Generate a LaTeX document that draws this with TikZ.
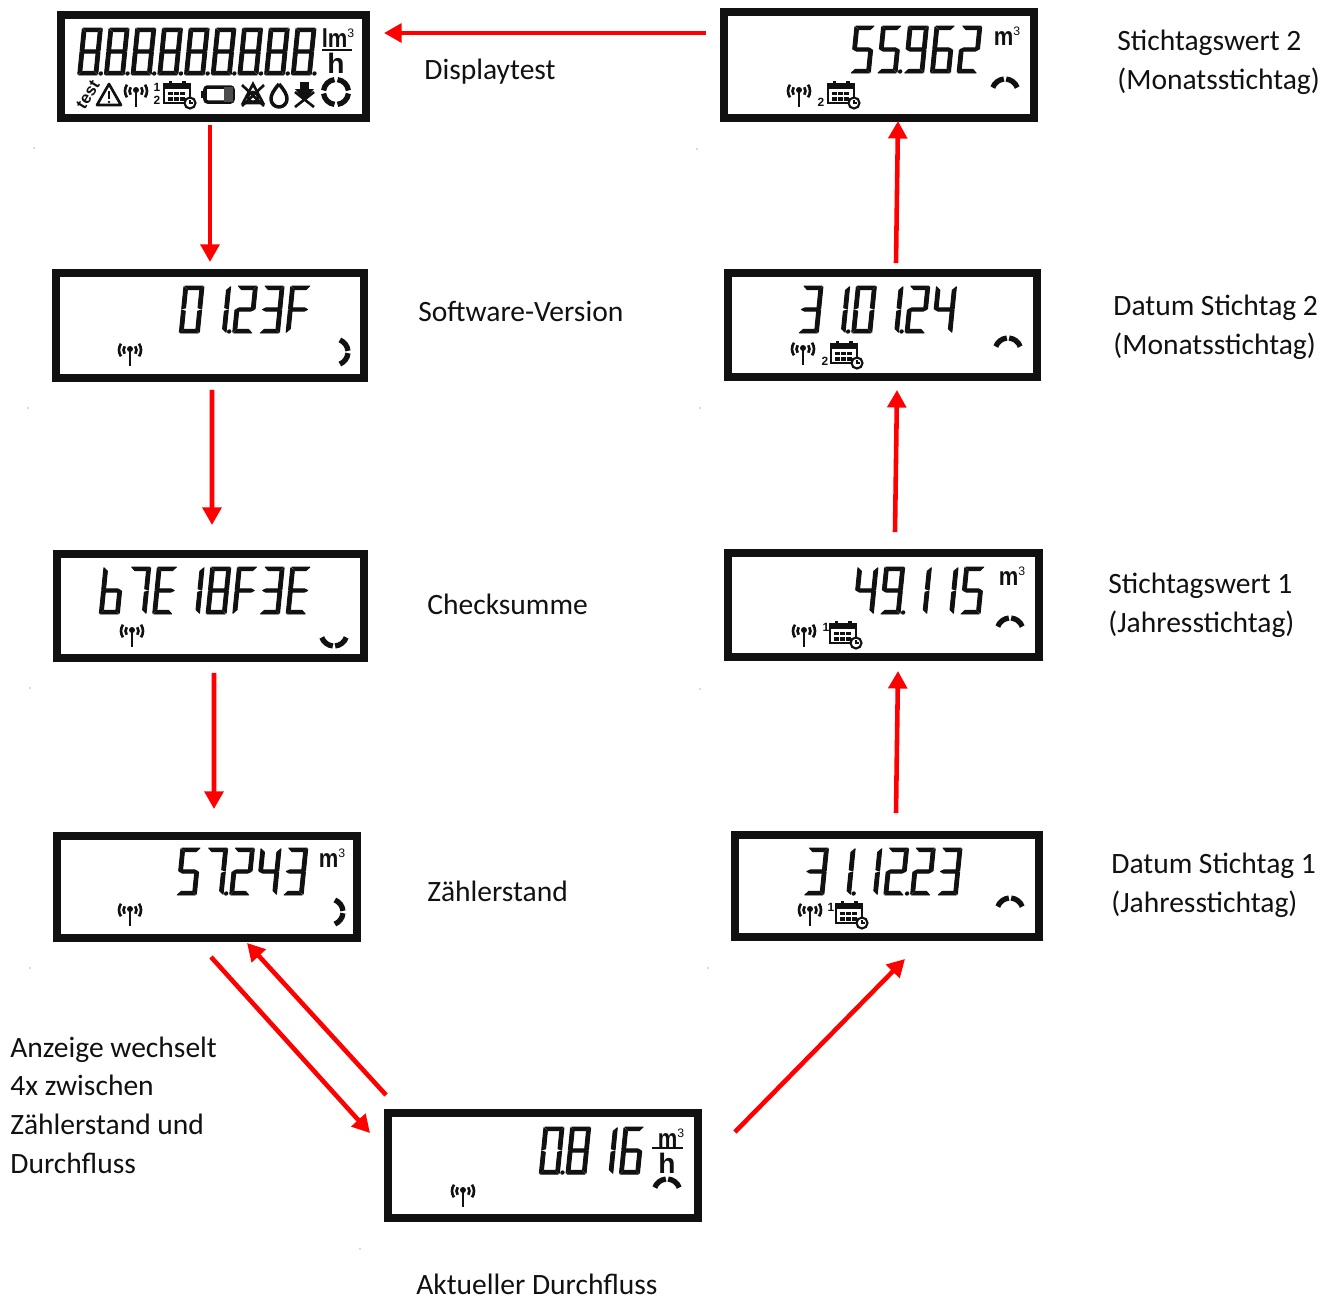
\documentclass[tikz,border=0pt]{standalone}
\usepackage{fontspec}
\setmainfont{Carlito}
\newfontfamily\lcdfont{Liberation Sans}
\usepackage{xcolor}
\usepackage{graphicx}
\usepackage{tikz}
\usetikzlibrary{arrows.meta,calc}
\definecolor{lcdblack}{HTML}{111111}
\definecolor{flowred}{HTML}{FF0000}
\newcommand{\px}{0.02cm}
% segments of one digit, 20 wide and 47 high
\def\sega{(1,0)--(19,0)--(15.5,3.6)--(4.5,3.6)--cycle}
\def\segb{(20,0.8)--(16.2,4.2)--(16.2,21.8)--(20,23)--cycle}
\def\segc{(20,24)--(16.2,25.2)--(16.2,42.8)--(20,46.2)--cycle}
\def\segd{(1,47)--(19,47)--(15.5,43.4)--(4.5,43.4)--cycle}
\def\sege{(0,24)--(3.8,25.2)--(3.8,42.8)--(0,46.2)--cycle}
\def\segf{(0,0.8)--(3.8,4.2)--(3.8,21.8)--(0,23)--cycle}
\def\segg{(0.8,23.5)--(4,21.9)--(16,21.9)--(19.2,23.5)--(16,25.1)--(4,25.1)--cycle}
\newcommand{\setglyph}[2]{\expandafter\def\csname glyph#1\endcsname{#2}}
\setglyph{0}{a,b,c,d,e,f}
\setglyph{1}{b,c}
\setglyph{2}{a,b,d,e,g}
\setglyph{3}{a,b,c,d,g}
\setglyph{4}{b,c,f,g}
\setglyph{5}{a,c,d,f,g}
\setglyph{6}{a,c,d,e,f,g}
\setglyph{7}{a,b,c}
\setglyph{8}{a,b,c,d,e,f,g}
\setglyph{9}{a,b,c,d,f,g}
\setglyph{b}{c,d,e,f,g}
\setglyph{E}{a,d,e,f,g}
\setglyph{F}{a,e,f,g}
% #1 left, #2 top, #3 characters of the reading
\newcommand{\lcdnum}[3]{
  \foreach \c [count=\i from 0] in {#3} {
    \begin{scope}[shift={({#1+26.7*\i},#2)}, xslant=0.1]
      \expandafter\let\expandafter\glyphlist\csname glyph\c\endcsname
      \foreach \s in \glyphlist {
        \expandafter\let\expandafter\segpath\csname seg\s\endcsname
        \fill[lcdblack, draw=lcdblack, line width=0.55pt, line join=round] \segpath;
      }
    \end{scope}
  }
}
\newcommand{\lcddots}[3]{
  \foreach \i in {#3} {
    \begin{scope}[shift={({#1+26.7*\i},#2)}, xslant=0.1]
      \fill[lcdblack] (23,45.5) circle (2.2);
    \end{scope}
  }
}
\newcommand{\cubic}[1]{\scalebox{1}[1.18]{#1}\raisebox{5.5pt}{\fontsize{7}{7}\selectfont\mdseries 3}}
\tikzset{
  lcdbox/.style 2 args={
    rectangle, draw=lcdblack, fill=white, line width=4.5pt,
    minimum width={#1*\px}, minimum height={#2*\px}, inner sep=0pt
  },
  caption/.style={
    anchor=west, align=left, inner sep=0pt,
    font=\fontsize{16.8}{22}\selectfont, text=lcdblack
  },
  unit/.style={font=\lcdfont\bfseries\fontsize{12.5}{13}\selectfont, inner sep=0pt, text=lcdblack},
  unitsmall/.style={font=\lcdfont\bfseries\fontsize{6.8}{7}\selectfont, inner sep=0pt, text=lcdblack},
  flowarrow/.style={
    -{Triangle[length=10pt,width=10.5pt]}, line width=2.6pt, color=flowred
  },
  lcdline/.style={draw=lcdblack, line width=1.5pt},
  ringline/.style={draw=lcdblack, line width=3pt},
  antenna/.pic={
    \draw[lcdline] (0,-4) -- (0,12);
    \fill[lcdblack] (0,-5) circle (3);
    \draw[lcdline] (35:6.5)+(0,-4) arc (35:-35:6.5);
    \draw[lcdline] (145:6.5)+(0,-4) arc (145:215:6.5);
    \draw[lcdline] (35:11)+(0,-4) arc (35:-35:11);
    \draw[lcdline] (145:11)+(0,-4) arc (145:215:11);
  },
  calendar/.pic={
    \draw[draw=lcdblack, line width=1.2pt] (0,2) rectangle (26,21);
    \fill[lcdblack] (0,2) rectangle (26,7);
    \fill[lcdblack] (4.5,-1.5) rectangle (8,3);
    \fill[lcdblack] (18,-1.5) rectangle (21.5,3);
    \foreach \gx in {4,10,16} \foreach \gy in {9.5,15} {
      \fill[lcdblack] (\gx,\gy) rectangle +(4.5,3.5);
    }
    \draw[draw=lcdblack, fill=white, line width=1.2pt] (26,21) circle (5.5);
    \draw[draw=lcdblack, line width=0.8pt] (26,18) -- (26,21) -- (29,21);
  },
  ringtop/.pic={
    \draw[ringline] (-160:13) arc (-160:-95:13);
    \draw[ringline] (-85:13) arc (-85:-20:13);
  },
  ringright/.pic={
    \draw[ringline] (-68:13) arc (-68:-5:13);
    \draw[ringline] (5:13) arc (5:68:13);
  },
  ringbottom/.pic={
    \draw[ringline] (20:13) arc (20:85:13);
    \draw[ringline] (95:13) arc (95:160:13);
  },
}
\begin{document}
\begin{tikzpicture}[x=0.02cm, y=-0.02cm]
  \useasboundingbox (0,0) rectangle (1336,1296);
  % displays
  \node[lcdbox={305}{103}] (disp) at (213.5,66.5) {};
  \node[lcdbox={308}{105}] (swver) at (210,325.5) {};
  \node[lcdbox={307}{104}] (chk) at (210.5,606) {};
  \node[lcdbox={300}{102}] (zst) at (207,887) {};
  \node[lcdbox={310}{105}] (flow) at (543,1165.5) {};
  \node[lcdbox={304}{102}] (dst1) at (887,886) {};
  \node[lcdbox={311}{104}] (stw1) at (883.5,605) {};
  \node[lcdbox={309}{104}] (dst2) at (882.5,325) {};
  \node[lcdbox={310}{106}] (stw2) at (879,65) {};
  % readings
  \lcdnum{82.4}{28}{8,8,8,8,8,8,8,8,8}
  \lcddots{82.4}{28}{0,1,2,3,4,5,6,7,8}
  \lcdnum{184}{286}{0,1,2,3,F}
  \lcddots{184}{286}{1}
  \lcdnum{104}{567}{b,7,E,1,8,F,3,E}
  \lcdnum{181}{848}{5,7,2,4,3}
  \lcddots{181}{848}{1}
  \lcdnum{544}{1127}{0,8,1,6}
  \lcddots{544}{1127}{0}
  \lcdnum{808.5}{848}{3,1,1,2,2,3}
  \lcddots{808.5}{848}{1,3}
  \lcdnum{858}{567}{4,9,1,1,5}
  \lcddots{858}{567}{1}
  \lcdnum{803}{286}{3,1,0,1,2,4}
  \lcddots{803}{286}{1,3}
  \lcdnum{855}{26}{5,5,9,6,2}
  \lcddots{855}{26}{1}
  % units
  \node[unit] (udisp) at (338,38) {\cubic{lm}};
  \draw[lcdline, line width=1.6pt] (322,50) -- (352,50);
  \node[unit, font=\lcdfont\bfseries\fontsize{16}{16}\selectfont] (hdisp) at (336,63) {h};
  \node[unit] (uflow) at (671,1138) {\cubic{m}};
  \draw[lcdline, line width=1.6pt] (652,1148) -- (683,1148);
  \node[unit, font=\lcdfont\bfseries\fontsize{16}{16}\selectfont] (hflow) at (667,1163) {h};
  \node[unit] (uzst) at (332,858) {\cubic{m}};
  \node[unit] (ustw1) at (1012,576) {\cubic{m}};
  \node[unit] (ustw2) at (1007,36) {\cubic{m}};
  % symbols
  \pic at (136,95) {antenna};
  \pic at (130,354) {antenna};
  \pic at (132,635) {antenna};
  \pic at (130,914) {antenna};
  \pic at (463,1195) {antenna};
  \pic at (810,914) {antenna};
  \pic at (804,635) {antenna};
  \pic at (803,353) {antenna};
  \pic at (799,95) {antenna};
  \pic at (164,82) {calendar};
  \pic at (828,82) {calendar};
  \pic at (831,342) {calendar};
  \pic at (830,622) {calendar};
  \pic at (836,902) {calendar};
  \node[unitsmall] (c1disp) at (157,87) {1};
  \node[unitsmall] (c2disp) at (157,100) {2};
  \node[unitsmall] (c2stw2) at (821,102) {2};
  \node[unitsmall] (c2dst2) at (825,361) {2};
  \node[unitsmall] (c1stw1) at (826,627) {1};
  \node[unitsmall] (c1dst1) at (831,907) {1};
  \pic at (1005,92) {ringtop};
  \pic at (1008,351) {ringtop};
  \pic at (1010,631) {ringtop};
  \pic at (1010,911) {ringtop};
  \pic at (667,1192) {ringtop};
  \pic at (335,352) {ringright};
  \pic at (330,912) {ringright};
  \pic at (334,633) {ringbottom};
  % symbol row of the display test
  \node[unitsmall, rotate=58, font=\lcdfont\bfseries\fontsize{9.5}{10}\selectfont] (tst) at (88,95) {test};
  \draw[lcdline, line join=round] (109,84) -- (121,105) -- (97,105) -- cycle;
  \draw[lcdline] (109,91) -- (109,99);
  \fill[lcdblack] (109,102) circle (1.4);
  \draw[lcdblack, line width=2pt, rounded corners=1.5pt] (205,87) rectangle (233,102);
  \fill[lcdblack] (201,91) rectangle (205,98);
  \fill[lcdblack!75] (224,87) rectangle (233,102);
  \draw[lcdline] (242,85) -- (264,106);
  \draw[lcdline] (264,85) -- (242,106);
  \draw[lcdline] (253,84) -- (243,103) -- (263,103) -- cycle;
  \draw[lcdline] (253,97) circle (5);
  \draw[lcdblack, line width=2pt, line join=round] (279,84) .. controls (285,91) and (287,95) .. (287,99) arc (0:180:8) .. controls (271,95) and (273,91) .. (279,84);
  \fill[lcdblack] (300,82) rectangle (309,90);
  \fill[lcdblack] (295,89) -- (314,89) -- (304.5,100) -- cycle;
  \draw[lcdline] (295,92) -- (314,107);
  \draw[lcdline] (314,92) -- (295,107);
  \foreach \a in {0,90,180,270} {
    \draw[ringline] ({336+12.5*cos(\a+7)},{92+12.5*sin(\a+7)}) arc (\a+7:\a+83:12.5);
  }
  % arrows
  \draw[flowarrow] ($(stw2.west)+(-14,-32)$) -- ($(disp.east)+(14,-33.5)$);
  \draw[flowarrow] ($(disp.south)+(-3.5,3)$) -- ($(swver.north)+(0,-7)$);
  \draw[flowarrow] ($(swver.south)+(2,8)$) -- ($(chk.north)+(1.5,-25)$);
  \draw[flowarrow] ($(chk.south)+(3.5,11)$) -- ($(zst.north)+(7,-23)$);
  \draw[flowarrow] ($(zst.south)+(4,15)$) -- ($(flow.west)+(-14,-32.5)$);
  \draw[flowarrow] ($(flow.west)+(2,-70.5)$) -- ($(zst.south)+(40,1)$);
  \draw[flowarrow] ($(flow.east)+(33,-33.5)$) -- ($(dst1.south)+(18,18)$);
  \draw[flowarrow] ($(dst1.north)+(9,-18)$) -- ($(stw1.south)+(14.5,10)$);
  \draw[flowarrow] ($(stw1.north)+(11.5,-17)$) -- ($(dst2.south)+(14.5,9)$);
  \draw[flowarrow] ($(dst2.north)+(13.5,-6)$) -- ($(stw2.south)+(19,-1)$);
  % captions
  \node[caption] (lbdisp) at (424,72) {Displaytest};
  \node[caption] (lbver) at (418,311) {Software-Version};
  \node[caption] (lbchk) at (427,604) {Checksumme};
  \node[caption] (lbzst) at (427,891) {Zählerstand};
  \node[caption] (lbswitch) at (10,1105) {Anzeige wechselt\\4x zwischen\\Zählerstand und\\Durchfluss};
  \node[caption] (lbflow) at (416,1284) {Aktueller Durchfluss};
  \node[caption] (lbdst1) at (1111,885) {Datum Stichtag 1\\(Jahresstichtag)};
  \node[caption] (lbstw1) at (1108,605) {Stichtagswert 1\\(Jahresstichtag)};
  \node[caption] (lbdst2) at (1113,327) {Datum Stichtag 2\\(Monatsstichtag)};
  \node[caption] (lbstw2) at (1117,62.5) {Stichtagswert 2\\(Monatsstichtag)};
  % specks left in the scan
  \foreach \sx/\sy in {34/148,697/149,28/408,700/408,30/688,700/689,30/968,708/968,360/1249} {
    \fill[black!60] (\sx,\sy) circle (0.6);
  }
\end{tikzpicture}
\end{document}
